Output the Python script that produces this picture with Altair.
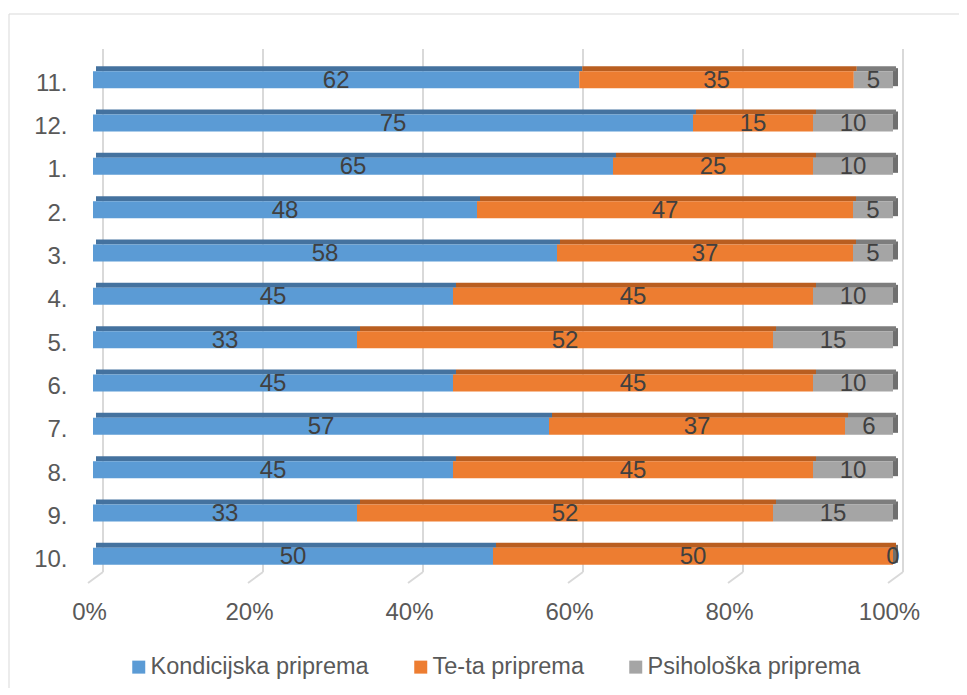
import altair as alt
import pandas as pd

rows = ["11.", "12.", "1.", "2.", "3.", "4.", "5.", "6.", "7.", "8.", "9.", "10."]
series = ["Kondicijska priprema", "Te-ta priprema", "Psihološka priprema"]
kond = [62, 75, 65, 48, 58, 45, 33, 45, 57, 45, 33, 50]
teta = [35, 15, 25, 47, 37, 45, 52, 45, 37, 45, 52, 50]
psih = [5, 10, 10, 5, 5, 10, 15, 10, 6, 10, 15, 0]
ticks = [0, 0.2, 0.4, 0.6, 0.8, 1.0]

front_colors = ["#5B9BD5", "#ED7D31", "#A5A5A5"]
top_colors = ["#44729F", "#B95E20", "#7D7D7D"]

recs = []
for vals, s_i in ((kond, 0), (teta, 1), (psih, 2)):
    for r, v in zip(rows, vals):
        recs.append({"row": r, "series": series[s_i], "ord": s_i, "value": v})
df = pd.DataFrame(recs)

W, H = 800, 520
FONT = "Liberation Sans"
FS = 24

base = alt.Chart(df).transform_stack(
    stack="value", groupby=["row"], as_=["x0", "x1"], offset="normalize",
    sort=[alt.SortField("ord", order="ascending")]
).transform_calculate(mid="(datum.x0 + datum.x1) / 2")

xscale = alt.Scale(domain=[0, 1], nice=False, zero=False)
yenc = alt.Y("row:N", sort=rows, scale=alt.Scale(paddingInner=0, paddingOuter=0),
             axis=alt.Axis(title=None, ticks=False, domain=False, labelFontSize=FS,
                           labelColor="#595959", labelFont=FONT, labelPadding=26,
                           labelOffset=4))

gt = alt.Chart(pd.DataFrame({"t": ticks}))
grid = gt.mark_rule(xOffset=10, color="#d9d9d9", strokeWidth=2).encode(
    x=alt.X("t:Q", scale=xscale,
            axis=alt.Axis(values=ticks, format=".0%", title=None, ticks=False,
                          domain=False, grid=False, labelFontSize=FS,
                          labelColor="#595959", labelFont=FONT, labelPadding=22,
                          labelOffset=-4, labelFlush=False)),
    y=alt.value(-9), y2=alt.value(514))
floor = gt.mark_rule(xOffset=10, x2Offset=-5, color="#d9d9d9", strokeWidth=2).encode(
    x=alt.X("t:Q"), x2="t:Q", y=alt.value(514), y2=alt.value(525))

side = base.transform_filter(alt.datum.ord == 2).mark_bar(
    size=18, yOffset=-2.5, x2Offset=5, color="#6F6F6F").encode(
    x=alt.X("x1:Q"), x2="x1:Q", y=yenc)

top = base.mark_bar(size=5, yOffset=-11, xOffset=3, x2Offset=3).encode(
    x=alt.X("x0:Q"), x2="x1:Q", y=yenc,
    color=alt.Color("series:N", scale=alt.Scale(domain=series, range=top_colors), legend=None))

front = base.mark_bar(size=17).encode(
    x=alt.X("x0:Q"), x2="x1:Q", y=yenc,
    color=alt.Color("series:N", scale=alt.Scale(domain=series, range=front_colors),
                    legend=alt.Legend(title=None, orient="none", direction="horizontal",
                                      legendX=34, legendY=597, padding=0,
                                      symbolType="square",
                                      symbolSize=169, symbolStrokeWidth=0,
                                      labelFontSize=23.5, labelFont=FONT,
                                      labelColor="#595959", labelOffset=0,
                                      labelLimit=0, columnPadding=40)))

labels = base.mark_text(fontSize=FS, font=FONT, color="#404040", baseline="middle",
                        align="center", dy=1).encode(
    x=alt.X("mid:Q"), y=yenc, text="value:Q")

border = alt.Chart(pd.DataFrame({"a": [0]})).mark_rect(
    filled=False, stroke="#d9d9d9", strokeWidth=1).encode(
    x=alt.value(-84), x2=alt.value(872), y=alt.value(-44), y2=alt.value(632))

chart = alt.layer(border, grid, floor, side, top, front, labels).resolve_scale(
    color="independent").properties(
    width=W, height=H,
    autosize=alt.AutoSizeParams(type="none"),
    padding={"left": 85, "top": 50, "right": 66, "bottom": 110},
    background="white"
).configure_view(stroke=None)

chart.save("out.html", embed_options={"renderer": "svg", "actions": False})
